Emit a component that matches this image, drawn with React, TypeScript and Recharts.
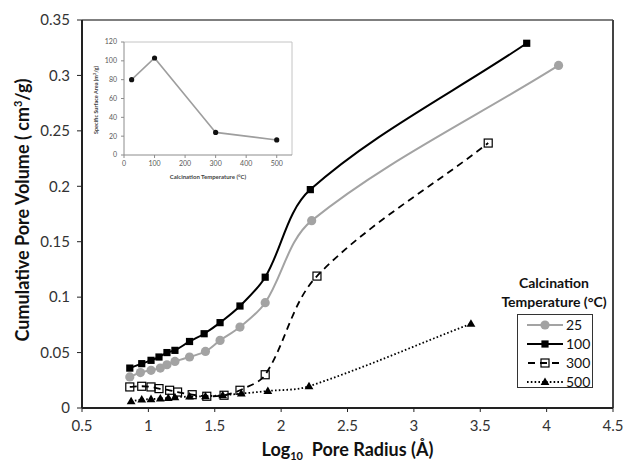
import { LineChart, Line, XAxis, YAxis, ReferenceLine } from "recharts";

const FONT = "Lato, 'Open Sans', sans-serif";

// Log10 pore radius (A) and cumulative pore volume (cm3/g) per calcination temperature
const xs25 = [0.86, 0.94, 1.02, 1.09, 1.14, 1.2, 1.31, 1.43, 1.54, 1.69, 1.88, 2.23, 4.09];
const v25 = [0.028, 0.032, 0.034, 0.036, 0.039, 0.042, 0.046, 0.051, 0.061, 0.073, 0.095, 0.169, 0.309];
const xs100 = [0.86, 0.95, 1.02, 1.08, 1.14, 1.2, 1.31, 1.42, 1.54, 1.69, 1.88, 2.22, 3.85];
const v100 = [0.036, 0.04, 0.043, 0.046, 0.05, 0.052, 0.06, 0.067, 0.077, 0.092, 0.118, 0.197, 0.329];
const xs300 = [0.86, 0.95, 1.02, 1.08, 1.16, 1.22, 1.33, 1.44, 1.57, 1.69, 1.88, 2.27, 3.56];
const v300 = [0.019, 0.0196, 0.019, 0.0175, 0.016, 0.0144, 0.012, 0.0106, 0.0115, 0.016, 0.03, 0.119, 0.239];
const xs500 = [0.87, 0.95, 1.02, 1.09, 1.15, 1.2, 1.31, 1.43, 1.56, 1.7, 1.9, 2.21, 3.43];
const v500 = [0.006, 0.0076, 0.008, 0.0085, 0.009, 0.0097, 0.0103, 0.0106, 0.0115, 0.013, 0.0153, 0.0196, 0.076];

const xTicks = [0.5, 1, 1.5, 2, 2.5, 3, 3.5, 4, 4.5];
const yTicks = [0, 0.05, 0.1, 0.15, 0.2, 0.25, 0.3, 0.35];

// inset: specific surface area vs calcination temperature
const insetTemps = [25, 100, 300, 500];
const insetArea = [80, 103, 24, 16];
const insetXTicks = [0, 100, 200, 300, 400, 500];
const insetYTicks = [0, 20, 40, 60, 80, 100, 120];

const legendNames = ["25", "100", "300", "500"];

const zip = (xs: number[], ys: number[]) => xs.map((x, i) => ({ x, y: ys[i] }));
const insetData = insetTemps.map((t, i) => ({ t, a: insetArea[i] }));

// spreadsheet-style smoothing: bezier through the points, tangents weighted by chord length
function smoothCurve(ctx: any) {
  let pts: number[][] = [];
  const dist = (a: number[], b: number[]) => Math.hypot(b[0] - a[0], b[1] - a[1]);
  return {
    areaStart() {},
    areaEnd() {},
    lineStart() { pts = []; },
    point(x: number, y: number) { pts.push([+x, +y]); },
    lineEnd() {
      const n = pts.length;
      if (!n) return;
      ctx.moveTo(pts[0][0], pts[0][1]);
      if (n < 3) {
        for (let i = 1; i < n; i++) ctx.lineTo(pts[i][0], pts[i][1]);
        return;
      }
      const tan = (i: number) => {
        const a = pts[Math.max(i - 1, 0)], b = pts[Math.min(i + 1, n - 1)];
        return [b[0] - a[0], b[1] - a[1]];
      };
      const seg = (i: number) => (i < 0 || i >= n - 1 ? 0 : dist(pts[i], pts[i + 1]));
      for (let i = 0; i < n - 1; i++) {
        const p1 = pts[i], p2 = pts[i + 1];
        const t1 = tan(i), t2 = tan(i + 1);
        const d = seg(i);
        const f1 = d / (seg(i - 1) + d || 1) / 3;
        const f2 = d / (d + seg(i + 1) || 1) / 3;
        ctx.bezierCurveTo(
          p1[0] + t1[0] * f1, p1[1] + t1[1] * f1,
          p2[0] - t2[0] * f2, p2[1] - t2[1] * f2,
          p2[0], p2[1],
        );
      }
    },
  };
}

function CircleDot(p: any) {
  return <circle key={p.index} cx={p.cx} cy={p.cy} r={4.6} fill="#a3a3a3" />;
}
function SquareDot(p: any) {
  return <rect key={p.index} x={p.cx - 3.6} y={p.cy - 3.6} width={7.2} height={7.2} fill="#000" />;
}
function OpenSquareDot(p: any) {
  return (
    <rect key={p.index} x={p.cx - 4} y={p.cy - 4} width={8} height={8}
      fill="none" stroke="#000" strokeWidth={1.2} />
  );
}
function TriDot(p: any) {
  const { cx, cy } = p;
  return <path key={p.index} d={`M${cx},${cy - 4.6}L${cx + 4.4},${cy + 3}L${cx - 4.4},${cy + 3}Z`} fill="#000" />;
}
function InsetDot(p: any) {
  return <circle key={p.index} cx={p.cx} cy={p.cy} r={2.6} fill="#111" />;
}

const series = [
  { name: "500", data: zip(xs500, v500), stroke: "#000", width: 1.8, dash: "1.6 2.2", dot: TriDot },
  { name: "300", data: zip(xs300, v300), stroke: "#000", width: 1.8, dash: "7 5", dot: OpenSquareDot },
  { name: "25", data: zip(xs25, v25), stroke: "#a3a3a3", width: 2, dash: undefined, dot: CircleDot },
  { name: "100", data: zip(xs100, v100), stroke: "#000", width: 2, dash: undefined, dot: SquareDot },
];

function XTitle(props: any) {
  const vb = props.viewBox || { x: 82, width: 531 };
  return (
    <text x={vb.x + vb.width / 2} y={456} textAnchor="middle" fontFamily={FONT}
      fontWeight={700} fontSize={18} fill="#111">
      Log<tspan fontSize={11} dy={4}>10</tspan>
      <tspan dy={-4}>{"\u00a0 Pore Radius (Å)"}</tspan>
    </text>
  );
}

function YTitle() {
  return (
    <text x={0} y={0} transform="translate(29,210) rotate(-90)" textAnchor="middle"
      fontFamily={FONT} fontWeight={700} fontSize={18} fill="#111">
      Cumulative Pore Volume ( cm<tspan fontSize={11} dy={-7}>3</tspan>
      <tspan dy={7}>/g)</tspan>
    </text>
  );
}

function InsetYTitle() {
  return (
    <text x={0} y={0} transform="translate(18,70) rotate(-90)" textAnchor="middle"
      fontFamily={FONT} fontWeight={700} fontSize={5.5} fill="#444">
      Specific Surface Area (m<tspan fontSize={4} dy={-2}>2</tspan>
      <tspan dy={2}>/g)</tspan>
    </text>
  );
}

function InsetXTitle() {
  return (
    <text x={128} y={149} textAnchor="middle" fontFamily={FONT} fontWeight={700}
      fontSize={6} fill="#444">
      Calcination Temperature (°C)
    </text>
  );
}

function LegendIcon({ i }: { i: number }) {
  const lines = [
    <line key="l" x1={1} x2={37} y1={7} y2={7} stroke="#a3a3a3" strokeWidth={2} />,
    <line key="l" x1={1} x2={37} y1={7} y2={7} stroke="#000" strokeWidth={2} />,
    <line key="l" x1={2} x2={36} y1={7} y2={7} stroke="#000" strokeWidth={1.8} strokeDasharray="7 5" />,
    <line key="l" x1={1} x2={37} y1={7} y2={7} stroke="#000" strokeWidth={1.8} strokeDasharray="1.6 2.2" />,
  ];
  const marks = [
    <circle key="m" cx={19} cy={7} r={4.6} fill="#a3a3a3" />,
    <rect key="m" x={15.4} y={3.4} width={7.2} height={7.2} fill="#000" />,
    <rect key="m" x={15} y={3} width={8} height={8} fill="none" stroke="#000" strokeWidth={1.2} />,
    <path key="m" d="M19,2.4L23.4,10L14.6,10Z" fill="#000" />,
  ];
  return (
    <svg width={38} height={14} style={{ display: "block" }}>
      {lines[i]}
      {marks[i]}
    </svg>
  );
}

function TempLegend() {
  return (
    <div style={{ position: "absolute", left: 494, top: 273, width: 120, fontFamily: FONT, color: "#111" }}>
      <div style={{ textAlign: "center", fontWeight: 700, fontSize: 14, lineHeight: "19px" }}>
        Calcination<br />Temperature (°C)
      </div>
      <div style={{
        position: "absolute", left: 23, top: 41, width: 76, height: 74,
        border: "1px solid #333", background: "#fff", boxSizing: "border-box",
      }}>
        {legendNames.map((n, i) => (
          <div key={n} style={{ display: "flex", alignItems: "center", height: 19, paddingLeft: 8 }}>
            <LegendIcon i={i} />
            <span style={{ fontSize: 14, marginLeft: 2, lineHeight: "14px" }}>{n}</span>
          </div>
        ))}
      </div>
    </div>
  );
}

function Inset() {
  const tick = { fontSize: 7, fill: "#595959", fontFamily: FONT };
  return (
    <div style={{ position: "absolute", left: 80, top: 30 }}>
      <LineChart width={220} height={160} data={insetData} margin={{ top: 12, right: 8, left: 0, bottom: 0 }}>
        <XAxis type="number" dataKey="t" domain={[0, 550]} ticks={insetXTicks} height={35}
          tick={tick} tickSize={3} tickMargin={3} stroke="#8c8c8c" label={<InsetXTitle />} />
        <YAxis type="number" domain={[0, 120]} ticks={insetYTicks} width={44}
          tick={tick} tickSize={3} tickMargin={4} stroke="#8c8c8c" label={<InsetYTitle />} />
        <ReferenceLine y={120} stroke="#c4c4c4" strokeWidth={1} />
        <ReferenceLine x={550} stroke="#c4c4c4" strokeWidth={1} />
        <Line type="linear" dataKey="a" stroke="#9e9e9e" strokeWidth={1.6}
          dot={InsetDot} activeDot={false} isAnimationActive={false} />
      </LineChart>
    </div>
  );
}

export default function App() {
  const tick = { fontSize: 15, fill: "#333", fontFamily: FONT };
  return (
    <div style={{ position: "absolute", left: 0, top: 0, width: 627, height: 463, background: "#fff", overflow: "hidden" }}>
      <LineChart width={627} height={463} margin={{ top: 20, right: 14, left: 0, bottom: 0 }}>
        <XAxis type="number" dataKey="x" domain={[0.5, 4.5]} ticks={xTicks} allowDataOverflow
          height={55} tick={tick} tickSize={4} tickMargin={8}
          axisLine={{ stroke: "#222", strokeWidth: 2 }} tickLine={{ stroke: "#222" }}
          label={<XTitle />} />
        <YAxis type="number" domain={[0, 0.35]} ticks={yTicks} allowDataOverflow width={82}
          tick={tick} tickSize={5} tickMargin={7}
          axisLine={{ stroke: "#222", strokeWidth: 2 }} tickLine={{ stroke: "#222" }}
          label={<YTitle />} />
        <ReferenceLine y={0.35} stroke="#555" strokeWidth={1.5} />
        <ReferenceLine x={4.5} stroke="#444" strokeWidth={2} />
        {series.map((s) => (
          <Line key={s.name} data={s.data} type={smoothCurve as any} dataKey="y" stroke={s.stroke}
            strokeWidth={s.width} strokeDasharray={s.dash} dot={s.dot} activeDot={false}
            isAnimationActive={false} />
        ))}
      </LineChart>
      <Inset />
      <TempLegend />
    </div>
  );
}
